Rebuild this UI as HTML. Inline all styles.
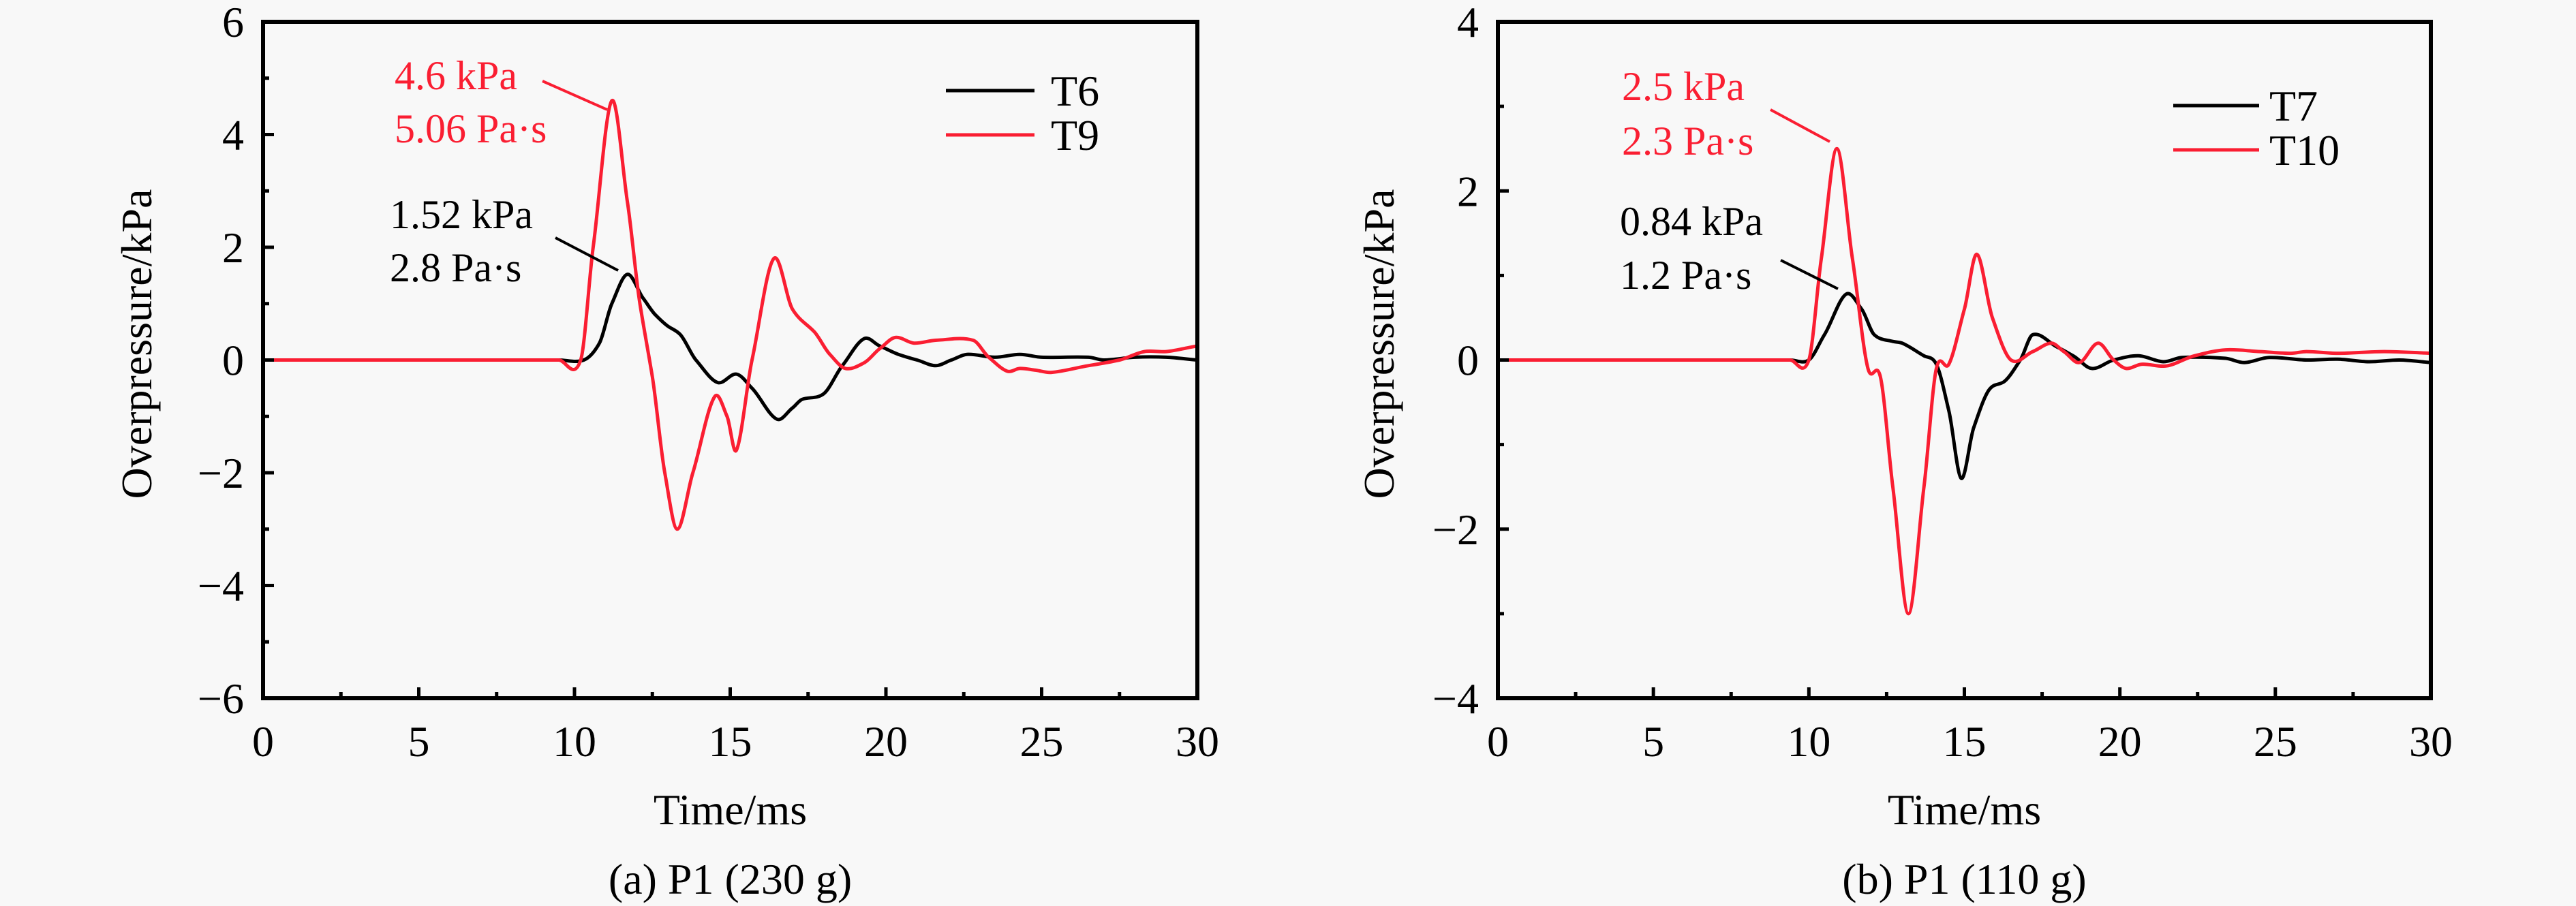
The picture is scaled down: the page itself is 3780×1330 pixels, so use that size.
<!DOCTYPE html>
<html><head><meta charset="utf-8"><style>
html,body{margin:0;padding:0;background:#f8f8f8;}
svg{display:block;}
svg text{font-family:"Liberation Serif",serif;}
</style></head><body>
<svg id="fig" width="3780" height="1330" viewBox="0 0 3780 1330" xmlns="http://www.w3.org/2000/svg">
<rect x="0" y="0" width="3780" height="1330" fill="#f8f8f8"/>
</svg>
<script>
// ---- Panel (a) data ----
const xA_T6 = [0,2,4,6,8,9.5,10.3,10.8,11.2,11.7,12.2,12.6,13.0,13.4,13.9,14.6,15.2,15.7,16.5,17.0,17.3,18.0,18.6,19.3,19.8,20.4,21.0,21.6,22.1,22.6,23.5,24.3,25.0,26.5,27.0,28.0,29.0,30];
const yA_T6 = [0,0,0,0,0,0,0,0.3,1.0,1.52,1.1,0.8,0.6,0.45,0.0,-0.4,-0.25,-0.5,-1.05,-0.85,-0.7,-0.6,-0.1,0.38,0.25,0.1,0.0,-0.1,0.0,0.1,0.05,0.1,0.05,0.05,0.0,0.05,0.05,0];
const xA_T9 = [0,2,4,6,8,9.5,10.2,10.6,11.2,11.7,12.1,12.5,12.9,13.3,13.8,14.5,14.9,15.2,15.7,16.4,17.0,17.7,18.2,18.7,19.3,19.8,20.3,20.9,21.6,22.8,23.3,23.9,24.3,24.8,25.3,26.5,27.5,28.3,29.0,30];
const yA_T9 = [0,0,0,0,0,0,0,2.0,4.6,2.8,1.0,-0.3,-2.0,-3.0,-2.0,-0.65,-1.0,-1.6,0.0,1.8,0.9,0.5,0.1,-0.15,-0.05,0.2,0.4,0.3,0.35,0.35,0.05,-0.2,-0.15,-0.18,-0.22,-0.1,0.0,0.15,0.15,0.25];
// ---- Panel (b) data ----
const xB_T7 = [0,2,4,6,8,9.4,10.0,10.5,11.2,11.7,12.1,12.7,13.0,13.7,14.1,14.5,14.9,15.3,15.8,16.3,16.8,17.2,18.0,18.5,19.1,19.8,20.6,21.4,22.0,23.4,24.0,24.8,26.0,27.0,28.0,29.0,30];
const yB_T7 = [0,0,0,0,0,0,0,0.3,0.78,0.6,0.3,0.22,0.2,0.05,-0.05,-0.6,-1.4,-0.8,-0.35,-0.25,0.0,0.3,0.15,0.05,-0.1,0.0,0.05,-0.02,0.03,0.02,-0.03,0.03,0.0,0.01,-0.02,0.0,-0.03];
const xB_T10 = [0,2,4,6,8,9.4,10.0,10.4,10.9,11.4,11.9,12.3,12.7,13.2,13.7,14.1,14.5,15.0,15.4,15.9,16.5,17.2,17.8,18.2,18.7,19.3,19.8,20.2,20.7,21.5,22.4,23.4,24.5,25.5,26.0,27.0,28.5,30];
const yB_T10 = [0,0,0,0,0,0,0,1.2,2.5,1.2,-0.1,-0.2,-1.5,-3.0,-1.5,-0.1,-0.05,0.6,1.25,0.5,0.0,0.1,0.2,0.1,-0.03,0.2,0.0,-0.1,-0.05,-0.07,0.05,0.12,0.1,0.08,0.1,0.08,0.1,0.08];
const xTicks = [0,5,10,15,20,25,30];
const yTicksA = [-6,-4,-2,0,2,4,6];
const yTicksB = [-4,-2,0,2,4];

const NS = "http://www.w3.org/2000/svg";
const svg = document.getElementById('fig');
const RED = "#fa1e32";
function el(tag, attrs, parent){
  const e = document.createElementNS(NS, tag);
  for (const k in attrs) e.setAttribute(k, attrs[k]);
  (parent||svg).appendChild(e);
  return e;
}
function smoothPath(pts){
  let d = "M"+pts[0][0].toFixed(1)+","+pts[0][1].toFixed(1);
  for (let i=0;i<pts.length-1;i++){
    const p0=pts[Math.max(0,i-1)], p1=pts[i], p2=pts[i+1], p3=pts[Math.min(pts.length-1,i+2)];
    const seg = p2[0]-p1[0];
    // tangent scaled to segment width to avoid overshoot
    let m1 = (p2[1]-p0[1])/((p2[0]-p0[0])||1);
    let m2 = (p3[1]-p1[1])/((p3[0]-p1[0])||1);
    if (p1[1]===p0[1] && i>0 && p2[1]===p1[1]) m1=0;
    const c1=[p1[0]+seg/3, p1[1]+m1*seg/3*0.9];
    const c2=[p2[0]-seg/3, p2[1]-m2*seg/3*0.9];
    d+=" C"+c1[0].toFixed(1)+","+c1[1].toFixed(1)+" "+c2[0].toFixed(1)+","+c2[1].toFixed(1)+" "+p2[0].toFixed(1)+","+p2[1].toFixed(1);
  }
  return d;
}
function panel(cfg){
  const g = el('g', {});
  
  
  const L=cfg.L, R=cfg.R, T=32, B=1025;
  const sx = v => L + (v-0)/(30-0)*(R-L);
  const sy = v => B - (v-cfg.ymin)/(cfg.ymax-cfg.ymin)*(B-T);
  cfg.series.forEach(s=>{
    const pts = s.x.map((xv,i)=>[sx(xv), sy(s.y[i])]);
    const p = el('path', {d:smoothPath(pts), fill:'none', stroke:s.color, 'stroke-width':5, 'stroke-linejoin':'round'}, g);
    
    
  });
  const fr = el('rect', {x:L, y:T, width:R-L, height:B-T, fill:'none', stroke:'#000', 'stroke-width':6}, g);
  
  
  xTicks.forEach((t,i)=>{
    const x = sx(t);
    const tk = el('line', {x1:x, x2:x, y1:B, y2:B-16, stroke:'#000','stroke-width':5}, g);
    
    
    if (i<xTicks.length-1){
      const xm = sx(t+2.5);
      const mt = el('line', {x1:xm, x2:xm, y1:B, y2:B-9, stroke:'#000','stroke-width':5}, g);
      
      
    }
    const tx = el('text', {x:x, y:1110, 'font-size':64, 'text-anchor':'middle', fill:'#000'}, g);
    tx.textContent = t;
    
    
  });
  cfg.yTicks.forEach((t,i)=>{
    const y = sy(t);
    const tk = el('line', {x1:L, x2:L+16, y1:y, y2:y, stroke:'#000','stroke-width':5}, g);
    
    
    if (i<cfg.yTicks.length-1){
      const ym = sy(t+1);
      const mt = el('line', {x1:L, x2:L+9, y1:ym, y2:ym, stroke:'#000','stroke-width':5}, g);
      
      
    }
    const tx = el('text', {x:L-28, y:y+22, 'font-size':64, 'text-anchor':'end', fill:'#000'}, g);
    tx.textContent = t<0 ? '\u2212'+(-t) : t;
    
    
  });
  const xt = el('text', {x:(L+R)/2, y:1210, 'font-size':64, 'text-anchor':'middle'}, g);
  xt.textContent = 'Time/ms';
  
  
  const yt = el('text', {x:0, y:0, 'font-size':64, 'text-anchor':'middle', transform:'translate('+(cfg.ytx)+',505) rotate(-90)'}, g);
  yt.textContent = 'Overpressure/kPa';
  
  
  const cap = el('text', {x:(L+R)/2, y:1312, 'font-size':64, 'text-anchor':'middle', 'xml:space':'preserve'}, g);
  cap.textContent = cfg.caption;
  
  
  cfg.series.forEach((s,i)=>{
    const ly = cfg.legY[i];
    const ln = el('line', {x1:cfg.legX1, x2:cfg.legX2, y1:ly, y2:ly, stroke:s.color, 'stroke-width':5}, g);
    
    
    const lt = el('text', {x:cfg.legTX, y:ly+22, 'font-size':64}, g);
    lt.textContent = s.label;
    
    
  });
  cfg.ann.forEach(a=>{
    const t1 = el('text', {x:a.x, y:a.y1, 'font-size':60, fill:a.color}, g);
    t1.textContent = a.l1;
    
    
    const t2 = el('text', {x:a.x, y:a.y2, 'font-size':60, fill:a.color}, g);
    t2.textContent = a.l2;
    
    
    const ld = el('line', {x1:a.lx1, y1:a.ly1, x2:a.lx2, y2:a.ly2, stroke:a.color, 'stroke-width':4}, g);
    
    
  });
}
panel({name:'panel-a', L:386, R:1757, ymin:-6, ymax:6, yTicks:yTicksA, ytx:222,
  caption:'(a)  P1 (230 g)',
  series:[{label:'T6', x:xA_T6, y:yA_T6, color:'#000'},{label:'T9', x:xA_T9, y:yA_T9, color:RED}],
  legX1:1388, legX2:1518, legY:[133,198], legTX:1542,
  ann:[{x:579,y1:131,y2:209,l1:'4.6 kPa',l2:'5.06 Pa\u00b7s',color:RED,lx1:796,ly1:119,lx2:891,ly2:161},
       {x:572,y1:335,y2:413,l1:'1.52 kPa',l2:'2.8 Pa\u00b7s',color:'#000',lx1:815,ly1:349,lx2:907,ly2:397}]
});
panel({name:'panel-b', L:2198, R:3567, ymin:-4, ymax:4, yTicks:yTicksB, ytx:2045,
  caption:'(b)  P1 (110 g)',
  series:[{label:'T7', x:xB_T7, y:yB_T7, color:'#000'},{label:'T10', x:xB_T10, y:yB_T10, color:RED}],
  legX1:3189, legX2:3315, legY:[155,220], legTX:3330,
  ann:[{x:2380,y1:147,y2:227,l1:'2.5 kPa',l2:'2.3 Pa\u00b7s',color:RED,lx1:2598,ly1:161,lx2:2685,ly2:208},
       {x:2377,y1:345,y2:424,l1:'0.84 kPa',l2:'1.2 Pa\u00b7s',color:'#000',lx1:2613,ly1:382,lx2:2697,ly2:424}]
});
</script>
</body></html>
